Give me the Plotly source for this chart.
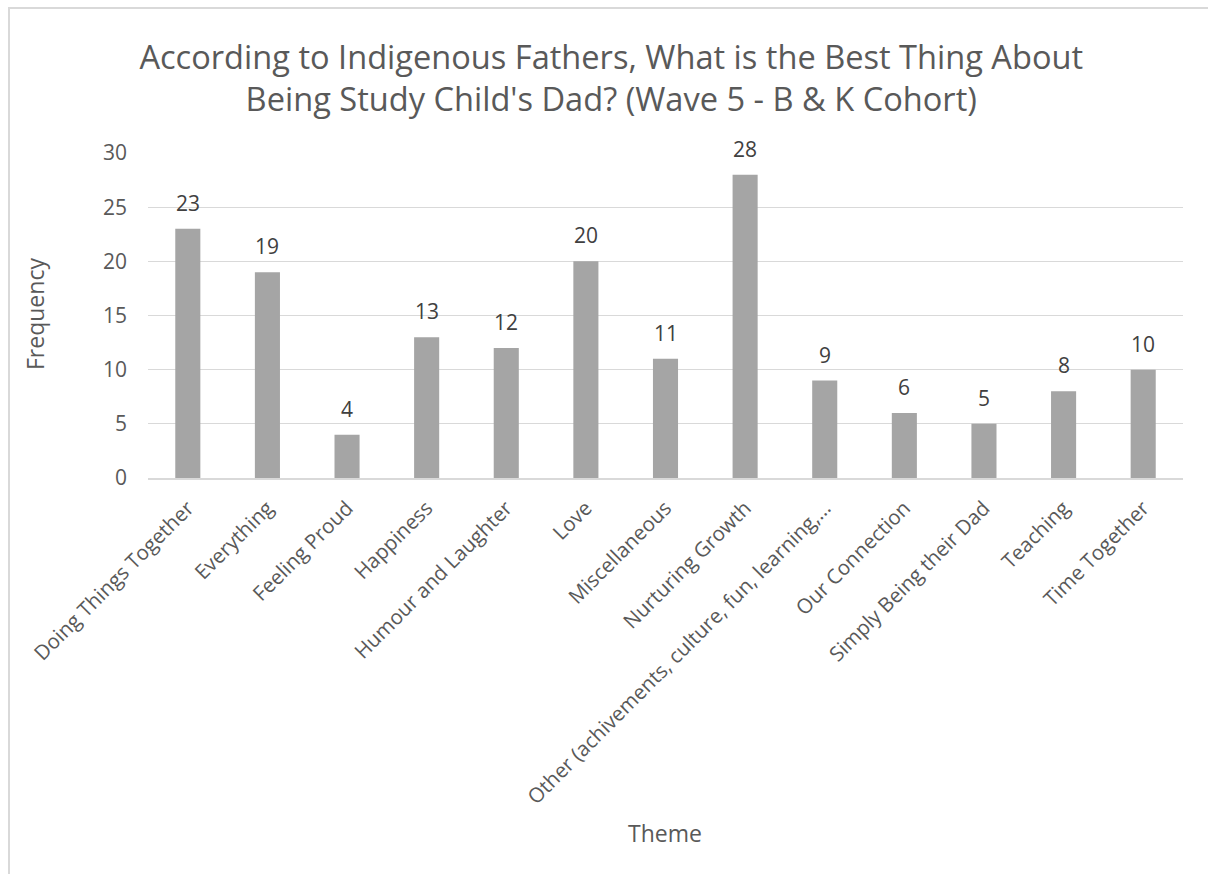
import plotly.graph_objects as go

categories = [
    "Doing Things Together", "Everything", "Feeling Proud", "Happiness",
    "Humour and Laughter", "Love", "Miscellaneous", "Nurturing Growth",
    "Other (achivements, culture, fun, learning,…", "Our Connection",
    "Simply Being their Dad", "Teaching", "Time Together",
]
frequency = [23, 19, 4, 13, 12, 20, 11, 28, 9, 6, 5, 8, 10]
y_ticks = [0, 5, 10, 15, 20, 25, 30]

FONT = "Open Sans"
TXT = "#595959"

fig = go.Figure(go.Bar(
    x=categories, y=frequency,
    marker=dict(color="#A5A5A5", line=dict(width=0)),
    hoverinfo="x+y",
))

annotations = [
    dict(x=c, y=v, xref="x", yref="y", text=str(v), showarrow=False,
         yanchor="middle", yshift=26,
         font=dict(family=FONT, size=21, color="#404040"))
    for c, v in zip(categories, frequency)
]
annotations.append(dict(
    text="Theme", xref="paper", yref="paper", x=(665 - 148) / 1035, y=(478 - 833) / 325,
    xanchor="center", yanchor="middle", showarrow=False,
    font=dict(family=FONT, size=23, color=TXT)))
annotations.append(dict(
    text="Frequency", xref="paper", yref="paper", x=(35 - 148) / 1035, y=(478 - 314) / 325,
    xanchor="center", yanchor="middle", showarrow=False, textangle=-90,
    font=dict(family=FONT, size=23, color=TXT)))

fig.update_layout(
    width=1208, height=874,
    margin=dict(l=148, r=25, t=153, b=396),
    paper_bgcolor="white", plot_bgcolor="white",
    bargap=0.685,
    showlegend=False,
    font=dict(family=FONT, color=TXT),
    title=dict(
        text="According to Indigenous Fathers, What is the Best Thing About<br>Being Study Child's Dad? (Wave 5 - B & K Cohort)",
        x=0.506, xanchor="center", y=0.921, yanchor="middle",
        font=dict(family=FONT, size=32.6, color=TXT),
    ),
    xaxis=dict(
        tickangle=-45, tickfont=dict(family=FONT, size=20.5, color=TXT),
        ticklabelstandoff=8,
        showline=True, linecolor="#D9D9D9", linewidth=2,
        showgrid=False, ticks="",
    ),
    yaxis=dict(
        range=[0, 30], tickvals=y_ticks,
        tickfont=dict(family=FONT, size=21, color=TXT),
        ticklabelstandoff=20,
        showgrid=True, gridcolor="#D9D9D9", gridwidth=1,
        zeroline=False, showline=False, ticks="",
    ),
    annotations=annotations,
    shapes=[
        dict(type="rect", xref="paper", yref="paper",
             x0=(9 - 148) / 1035, x1=(1300 - 148) / 1035,
             y0=(478 - 1000) / 325, y1=(478 - 8) / 325,
             line=dict(color="#D9D9D9", width=2), fillcolor="rgba(0,0,0,0)", layer="below"),
    ],
)

fig.write_html("out.html")
